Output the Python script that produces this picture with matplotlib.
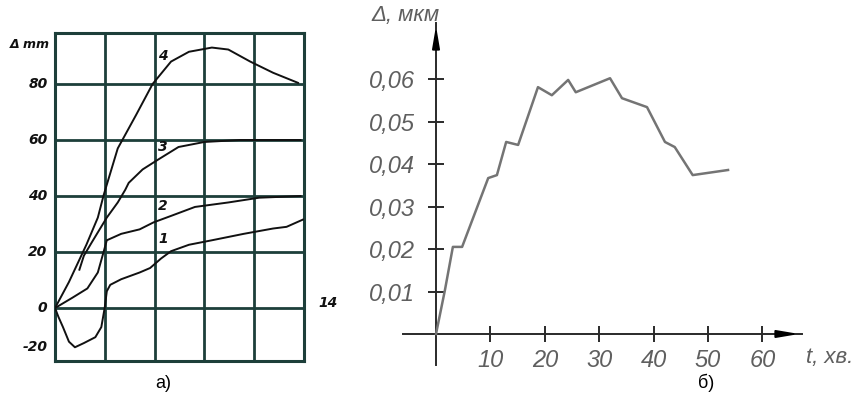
import matplotlib
matplotlib.use("Agg")
import matplotlib.pyplot as plt
import numpy as np

# --- panel a): curves 1..4 on a hand-drawn grid (x in grid cells, y in mm)
c1_x = [0, 0.07, 0.16, 0.28, 0.40, 0.58, 0.81, 0.93, 1.0, 1.04, 1.11, 1.33, 1.70, 1.91,
        2.13, 2.33, 2.69, 3.15, 3.79, 4.38, 4.65, 4.98]
c1_y = [0, -3.2, -6.8, -12, -14, -12.5, -10.4, -6.8, 0.3, 6, 8.3, 10.3, 12.7, 14.3,
        17.7, 20.3, 22.6, 24.2, 26.5, 28.4, 29, 31.6]

c2_x = [0, 0.35, 0.65, 0.86, 0.98, 1.04, 1.33, 1.70, 1.98, 2.33, 2.81, 3.48, 4.1, 4.93]
c2_y = [0, 3.7, 7, 12.7, 20.3, 24.2, 26.5, 28.1, 30.6, 32.9, 36.1, 37.7, 39.4, 40]

c3_x = [0.49, 0.58, 0.74, 1.04, 1.26, 1.41, 1.48, 1.76, 2.07, 2.48, 3.0, 3.71, 4.93]
c3_y = [13.7, 18.7, 23.5, 32.3, 37.7, 42.2, 44.7, 49.5, 53, 57.5, 59.3, 60, 60]

c4_x = [0, 0.28, 0.63, 0.86, 0.98, 1.26, 1.63, 1.96, 2.33, 2.69, 3.15, 3.48, 3.92, 4.38, 4.88]
c4_y = [0, 9.3, 22.6, 32.3, 40.5, 57, 69, 80, 88, 91.5, 93, 92.3, 88, 84, 80.4]

curve_labels = ["1", "2", "3", "4"]
label_pos = [(2.17, 24.8), (2.17, 36.5), (2.17, 57.5), (2.17, 90)]

a_yticks = [0, 20, 40, 60, 80]

# --- panel б): deformation vs time
t_min = [0, 1.65, 3.1, 4.8, 9.6, 11.2, 12.9, 15.1, 18.75, 21.3, 24.3, 25.7, 32.0,
         34.2, 38.8, 42.1, 43.9, 47.2, 53.7]
d_um = [0, 0.0104, 0.0205, 0.0205, 0.0367, 0.0374, 0.0452, 0.0445, 0.0581, 0.0562,
        0.0598, 0.0569, 0.0602, 0.0555, 0.0534, 0.0452, 0.0440, 0.0374, 0.0386]

b_xticks = [10, 20, 30, 40, 50, 60]
b_yticks = [0.01, 0.02, 0.03, 0.04, 0.05, 0.06]
b_ylabels = ["0,01", "0,02", "0,03", "0,04", "0,05", "0,06"]

W, H = 857, 403
fig = plt.figure(figsize=(W / 100, H / 100), dpi=100)
fig.patch.set_facecolor("white")

grid_col = "#1d3f3a"
bi = dict(fontweight="bold", fontstyle="italic", family="DejaVu Sans", color="#111111")

# ---------------- panel a
ax = fig.add_axes([55 / W, 42 / H, 249 / W, 328 / H])
ax.set_xlim(0, 5)
ax.set_ylim(-18.9, 98.2)
for s in ax.spines.values():
    s.set_color(grid_col)
    s.set_linewidth(2.2)
for v in [1, 2, 3, 4]:
    ax.axvline(v, color=grid_col, lw=2.0, zorder=1)
for v in a_yticks:
    ax.axhline(v, color=grid_col, lw=2.0, zorder=1)
ax.set_xticks([])
ax.set_yticks([])

for xs, ys in [(c1_x, c1_y), (c2_x, c2_y), (c3_x, c3_y), (c4_x, c4_y)]:
    ax.plot(xs, ys, color="#111111", lw=1.4, zorder=3)

for lab, (lx, ly) in zip(curve_labels, label_pos):
    ax.text(lx, ly, lab, fontsize=10, ha="center", va="center", zorder=4, **bi)

for v in a_yticks:
    ax.text(-0.15, v, str(v), fontsize=10, ha="right", va="center", clip_on=False, **bi)
ax.text(-0.15, -14, "-20", fontsize=10, ha="right", va="center", clip_on=False, **bi)
ax.text(-0.1, 94, "Δ mm", fontsize=9, ha="right", va="center", clip_on=False, **bi)
ax.text(5.48, 1.8, "14", fontsize=10, ha="center", va="center", clip_on=False, **bi)

fig.text(163 / W, 1 - 383 / H, "а)", fontsize=13, family="Liberation Sans",
         ha="center", va="center")

# ---------------- panel б
tick_font = dict(family=["Liberation Sans", "DejaVu Sans"], fontstyle="italic",
                 fontsize=17, color="#5f5f5f")
axis_col = "#2a2a2a"

bx = fig.add_axes([403 / W, 38 / H, 399 / W, 342 / H])
bx.set_xlim(-6.07, 67.3)
bx.set_ylim(-0.0073, 0.0732)
bx.spines["top"].set_visible(False)
bx.spines["right"].set_visible(False)
bx.spines["left"].set_position(("data", 0))
bx.spines["bottom"].set_position(("data", 0))
for s in ["left", "bottom"]:
    bx.spines[s].set_color(axis_col)
    bx.spines[s].set_linewidth(1.4)
bx.patch.set_alpha(0)

bx.plot(t_min, d_um, color="#747474", lw=1.8, zorder=3)

bx.set_xticks(b_xticks)
bx.set_xticklabels([str(v) for v in b_xticks], **tick_font)
bx.set_yticks(b_yticks)
bx.set_yticklabels(b_ylabels, **tick_font)
bx.tick_params(direction="inout", length=12, width=1.4, color=axis_col)
bx.tick_params(axis="x", pad=5)
bx.tick_params(axis="y", pad=9)

# arrow heads
bx.annotate("", xy=(0, 1.0), xytext=(0, 0.93), xycoords=("data", "axes fraction"),
            arrowprops=dict(arrowstyle="-|>,head_length=1.3,head_width=0.22",
                            color="black", lw=1.4))
bx.annotate("", xy=(1.0, 0), xytext=(0.95, 0), xycoords=("axes fraction", "data"),
            arrowprops=dict(arrowstyle="-|>,head_length=1.3,head_width=0.22",
                            color="black", lw=1.4))

lab_font = dict(tick_font, fontsize=16)
fig.text(371 / W, 1 - 16 / H, "Δ, мкм", ha="left", va="center", **lab_font)
fig.text(806 / W, 1 - 357 / H, "t, хв.", ha="left", va="center", **lab_font)

fig.text(706 / W, 1 - 383 / H, "б)", fontsize=13, family="Liberation Sans",
         ha="center", va="center")

fig.savefig("out.png", dpi=100, facecolor="white")
